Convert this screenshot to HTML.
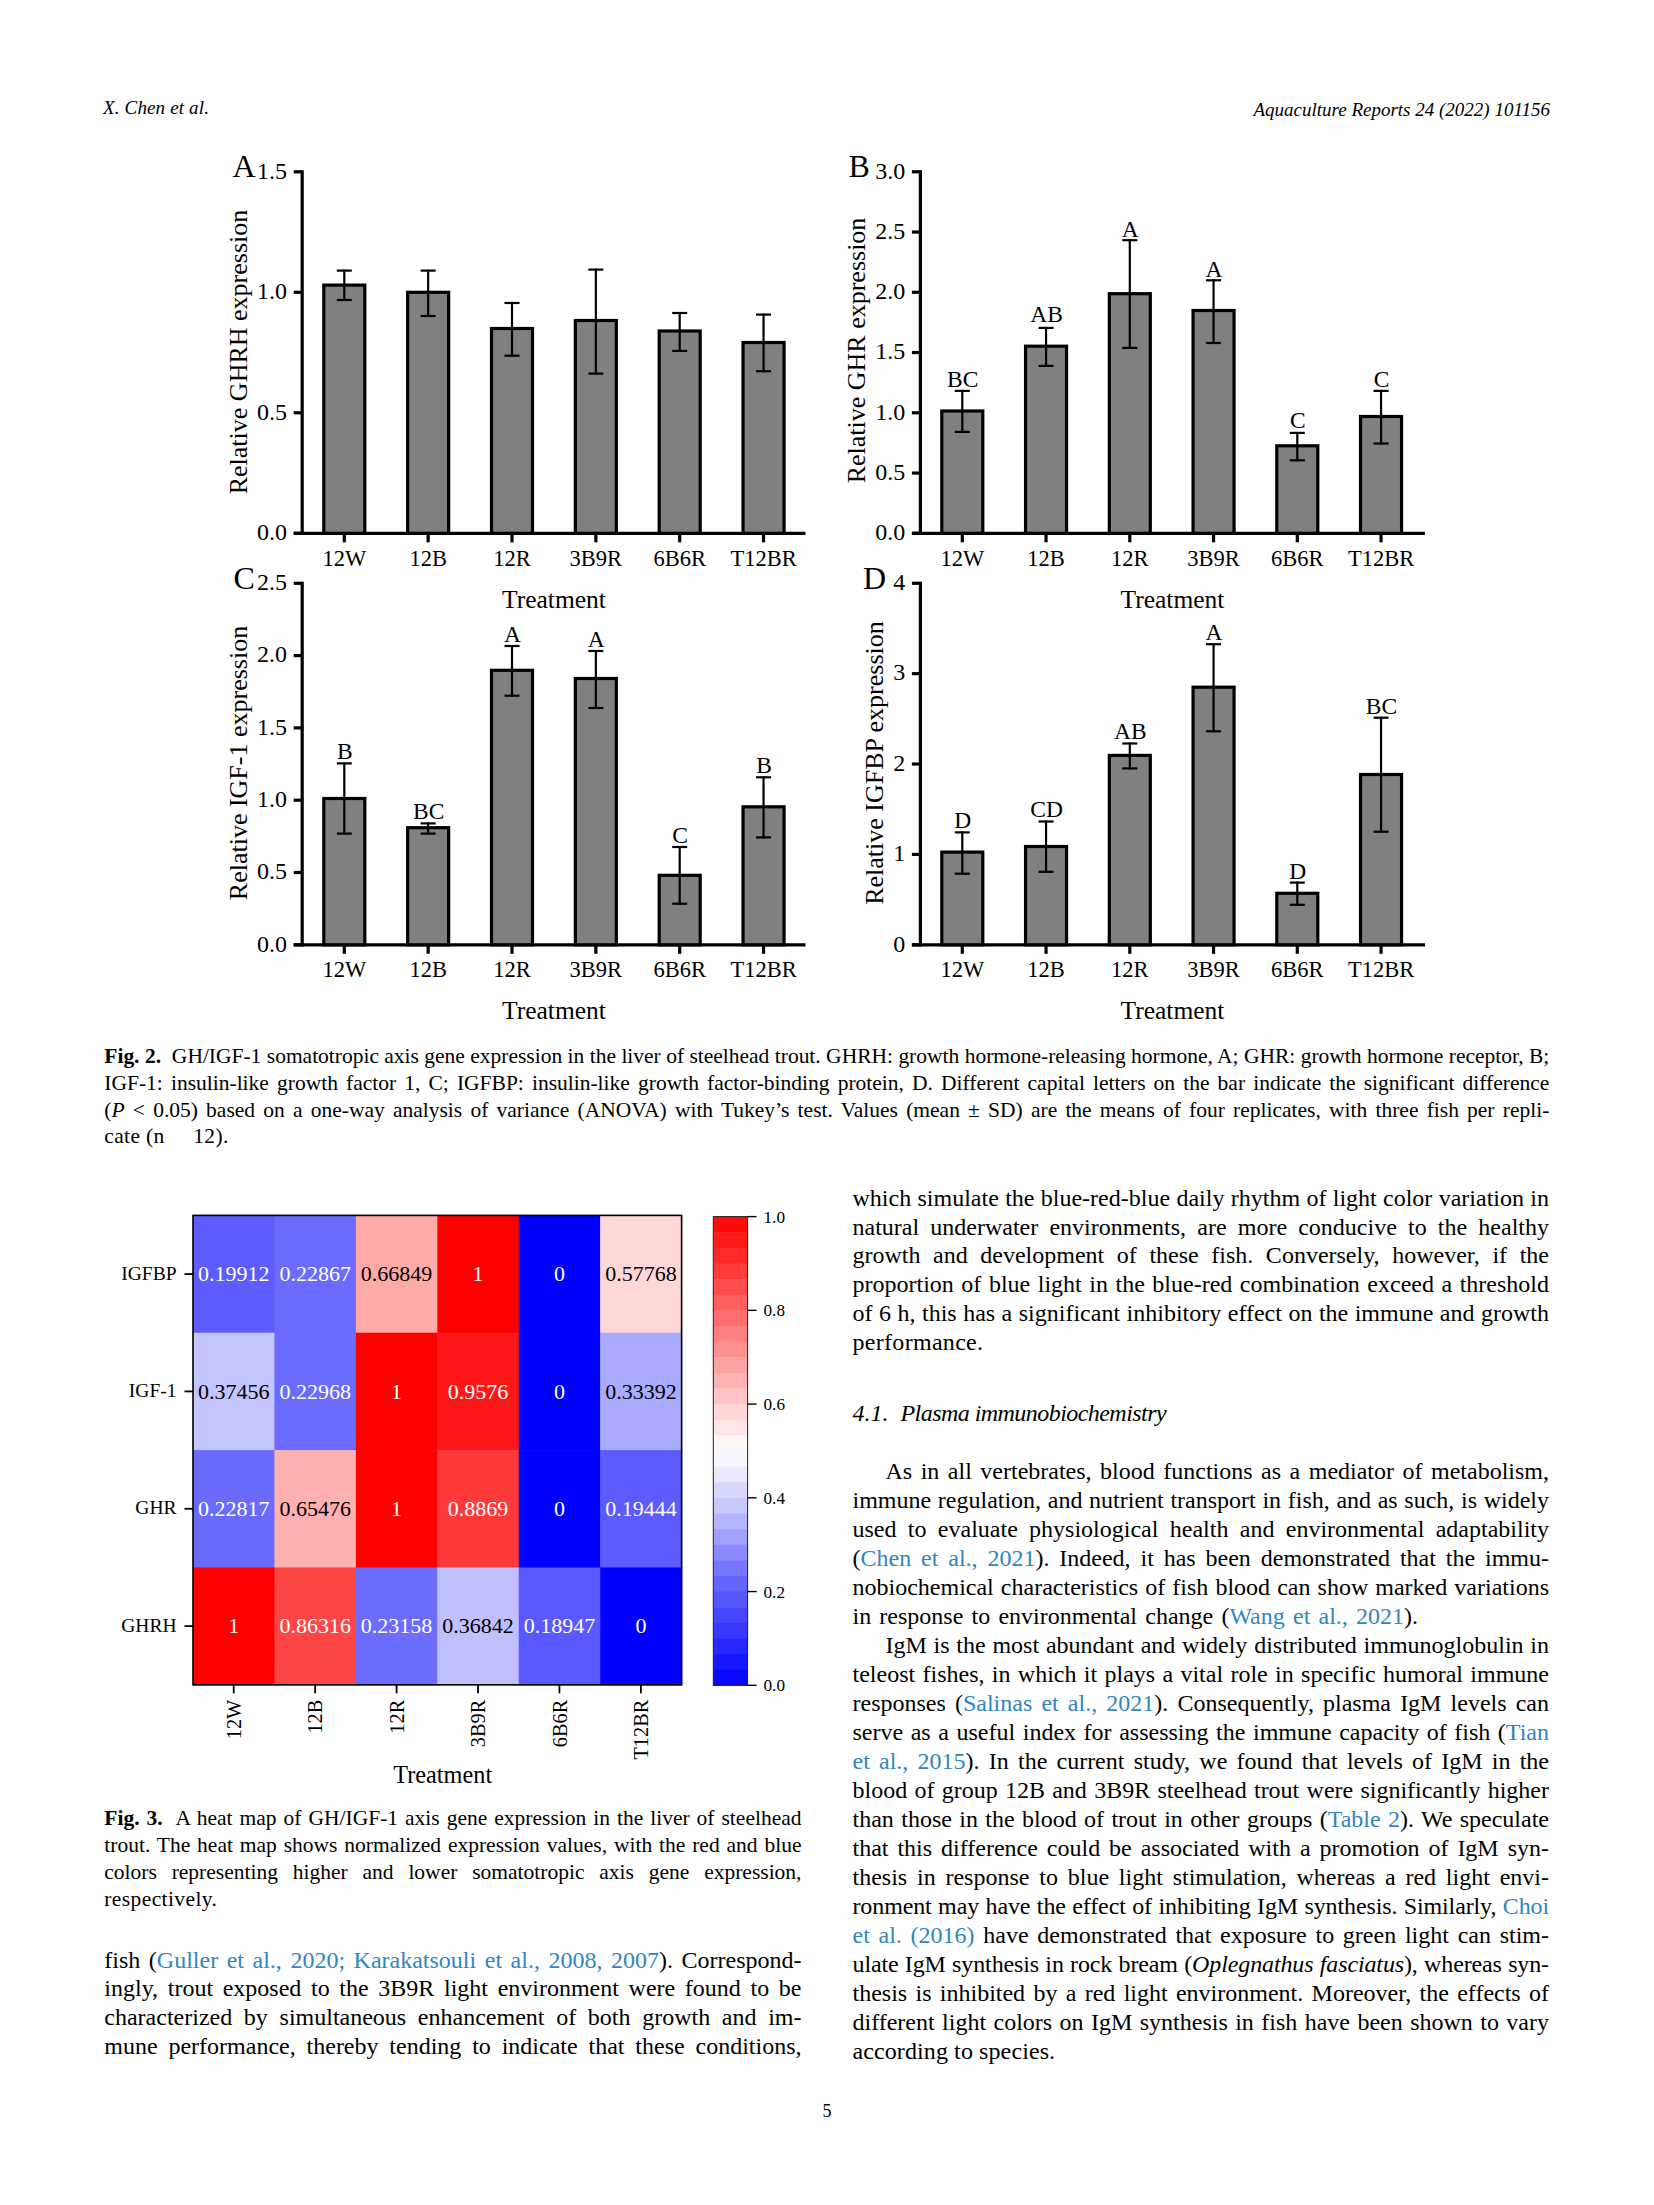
<!DOCTYPE html>
<html><head><meta charset="utf-8"><title>Aquaculture Reports page 5</title>
<style>
html,body{margin:0;padding:0;background:#fff;}
body{width:1654px;height:2205px;position:relative;overflow:hidden;font-family:'Liberation Serif', serif;color:#000;}
.b,.c,.hd{position:absolute;white-space:normal;}
.b{font-size:24px;line-height:29px;}
.c{font-size:21.5px;line-height:26.7px;}
.hd{font-size:19px;line-height:20px;font-style:italic;white-space:nowrap;}
.j{text-align:justify;text-align-last:justify;}
.lk{color:#3186bd;}
svg{position:absolute;left:0;top:0;}
svg text{font-family:'Liberation Serif', serif;}
</style></head><body>
<svg width="1654" height="2205" viewBox="0 0 1654 2205">
<line x1="302.20" y1="170.20" x2="302.20" y2="534.90" stroke="#000" stroke-width="3.2"/>
<line x1="293.70" y1="533.30" x2="805.50" y2="533.30" stroke="#000" stroke-width="3.2"/>
<line x1="293.70" y1="533.30" x2="302.20" y2="533.30" stroke="#000" stroke-width="3.2"/>
<text x="287.00" y="540.10" font-size="24" text-anchor="end" fill="#000">0.0</text>
<line x1="293.70" y1="412.80" x2="302.20" y2="412.80" stroke="#000" stroke-width="3.2"/>
<text x="287.00" y="419.60" font-size="24" text-anchor="end" fill="#000">0.5</text>
<line x1="293.70" y1="292.30" x2="302.20" y2="292.30" stroke="#000" stroke-width="3.2"/>
<text x="287.00" y="299.10" font-size="24" text-anchor="end" fill="#000">1.0</text>
<line x1="293.70" y1="171.80" x2="302.20" y2="171.80" stroke="#000" stroke-width="3.2"/>
<text x="287.00" y="178.60" font-size="24" text-anchor="end" fill="#000">1.5</text>
<rect x="323.80" y="285.10" width="41.00" height="248.20" fill="#808080" stroke="#000" stroke-width="3.2"/>
<line x1="344.30" y1="269.60" x2="344.30" y2="301.00" stroke="#000" stroke-width="2.2"/>
<line x1="336.80" y1="270.60" x2="351.80" y2="270.60" stroke="#000" stroke-width="2.2"/>
<line x1="336.80" y1="300.00" x2="351.80" y2="300.00" stroke="#000" stroke-width="2.2"/>
<line x1="344.30" y1="533.30" x2="344.30" y2="542.30" stroke="#000" stroke-width="3.2"/>
<text x="344.30" y="566.30" font-size="22.5" text-anchor="middle" fill="#000">12W</text>
<rect x="407.65" y="292.30" width="41.00" height="241.00" fill="#808080" stroke="#000" stroke-width="3.2"/>
<line x1="428.15" y1="269.60" x2="428.15" y2="317.00" stroke="#000" stroke-width="2.2"/>
<line x1="420.65" y1="270.60" x2="435.65" y2="270.60" stroke="#000" stroke-width="2.2"/>
<line x1="420.65" y1="316.00" x2="435.65" y2="316.00" stroke="#000" stroke-width="2.2"/>
<line x1="428.15" y1="533.30" x2="428.15" y2="542.30" stroke="#000" stroke-width="3.2"/>
<text x="428.15" y="566.30" font-size="22.5" text-anchor="middle" fill="#000">12B</text>
<rect x="491.50" y="328.50" width="41.00" height="204.80" fill="#808080" stroke="#000" stroke-width="3.2"/>
<line x1="512.00" y1="302.00" x2="512.00" y2="356.70" stroke="#000" stroke-width="2.2"/>
<line x1="504.50" y1="303.00" x2="519.50" y2="303.00" stroke="#000" stroke-width="2.2"/>
<line x1="504.50" y1="355.70" x2="519.50" y2="355.70" stroke="#000" stroke-width="2.2"/>
<line x1="512.00" y1="533.30" x2="512.00" y2="542.30" stroke="#000" stroke-width="3.2"/>
<text x="512.00" y="566.30" font-size="22.5" text-anchor="middle" fill="#000">12R</text>
<rect x="575.35" y="320.50" width="41.00" height="212.80" fill="#808080" stroke="#000" stroke-width="3.2"/>
<line x1="595.85" y1="268.60" x2="595.85" y2="374.60" stroke="#000" stroke-width="2.2"/>
<line x1="588.35" y1="269.60" x2="603.35" y2="269.60" stroke="#000" stroke-width="2.2"/>
<line x1="588.35" y1="373.60" x2="603.35" y2="373.60" stroke="#000" stroke-width="2.2"/>
<line x1="595.85" y1="533.30" x2="595.85" y2="542.30" stroke="#000" stroke-width="3.2"/>
<text x="595.85" y="566.30" font-size="22.5" text-anchor="middle" fill="#000">3B9R</text>
<rect x="659.20" y="331.00" width="41.00" height="202.30" fill="#808080" stroke="#000" stroke-width="3.2"/>
<line x1="679.70" y1="312.00" x2="679.70" y2="351.90" stroke="#000" stroke-width="2.2"/>
<line x1="672.20" y1="313.00" x2="687.20" y2="313.00" stroke="#000" stroke-width="2.2"/>
<line x1="672.20" y1="350.90" x2="687.20" y2="350.90" stroke="#000" stroke-width="2.2"/>
<line x1="679.70" y1="533.30" x2="679.70" y2="542.30" stroke="#000" stroke-width="3.2"/>
<text x="679.70" y="566.30" font-size="22.5" text-anchor="middle" fill="#000">6B6R</text>
<rect x="743.05" y="342.50" width="41.00" height="190.80" fill="#808080" stroke="#000" stroke-width="3.2"/>
<line x1="763.55" y1="313.60" x2="763.55" y2="372.20" stroke="#000" stroke-width="2.2"/>
<line x1="756.05" y1="314.60" x2="771.05" y2="314.60" stroke="#000" stroke-width="2.2"/>
<line x1="756.05" y1="371.20" x2="771.05" y2="371.20" stroke="#000" stroke-width="2.2"/>
<line x1="763.55" y1="533.30" x2="763.55" y2="542.30" stroke="#000" stroke-width="3.2"/>
<text x="763.55" y="566.30" font-size="22.5" text-anchor="middle" fill="#000">T12BR</text>
<text x="554.00" y="607.70" font-size="25.5" text-anchor="middle" fill="#000">Treatment</text>
<text x="247.10" y="352.00" font-size="26" text-anchor="middle" fill="#000" transform="rotate(-90 247.10 352.00)">Relative GHRH expression</text>
<text x="232.50" y="177.30" font-size="32" text-anchor="start" fill="#000">A</text>
<line x1="920.40" y1="170.20" x2="920.40" y2="534.90" stroke="#000" stroke-width="3.2"/>
<line x1="911.90" y1="533.30" x2="1425.00" y2="533.30" stroke="#000" stroke-width="3.2"/>
<line x1="911.90" y1="533.30" x2="920.40" y2="533.30" stroke="#000" stroke-width="3.2"/>
<text x="905.20" y="540.10" font-size="24" text-anchor="end" fill="#000">0.0</text>
<line x1="911.90" y1="473.05" x2="920.40" y2="473.05" stroke="#000" stroke-width="3.2"/>
<text x="905.20" y="479.85" font-size="24" text-anchor="end" fill="#000">0.5</text>
<line x1="911.90" y1="412.80" x2="920.40" y2="412.80" stroke="#000" stroke-width="3.2"/>
<text x="905.20" y="419.60" font-size="24" text-anchor="end" fill="#000">1.0</text>
<line x1="911.90" y1="352.55" x2="920.40" y2="352.55" stroke="#000" stroke-width="3.2"/>
<text x="905.20" y="359.35" font-size="24" text-anchor="end" fill="#000">1.5</text>
<line x1="911.90" y1="292.30" x2="920.40" y2="292.30" stroke="#000" stroke-width="3.2"/>
<text x="905.20" y="299.10" font-size="24" text-anchor="end" fill="#000">2.0</text>
<line x1="911.90" y1="232.05" x2="920.40" y2="232.05" stroke="#000" stroke-width="3.2"/>
<text x="905.20" y="238.85" font-size="24" text-anchor="end" fill="#000">2.5</text>
<line x1="911.90" y1="171.80" x2="920.40" y2="171.80" stroke="#000" stroke-width="3.2"/>
<text x="905.20" y="178.60" font-size="24" text-anchor="end" fill="#000">3.0</text>
<rect x="941.80" y="411.00" width="41.00" height="122.30" fill="#808080" stroke="#000" stroke-width="3.2"/>
<line x1="962.30" y1="389.90" x2="962.30" y2="432.90" stroke="#000" stroke-width="2.2"/>
<line x1="954.80" y1="390.90" x2="969.80" y2="390.90" stroke="#000" stroke-width="2.2"/>
<line x1="954.80" y1="431.90" x2="969.80" y2="431.90" stroke="#000" stroke-width="2.2"/>
<line x1="962.30" y1="533.30" x2="962.30" y2="542.30" stroke="#000" stroke-width="3.2"/>
<text x="962.30" y="566.30" font-size="22.5" text-anchor="middle" fill="#000">12W</text>
<text x="962.80" y="386.90" font-size="23.5" text-anchor="middle" fill="#000">BC</text>
<rect x="1025.55" y="346.20" width="41.00" height="187.10" fill="#808080" stroke="#000" stroke-width="3.2"/>
<line x1="1046.05" y1="326.90" x2="1046.05" y2="366.90" stroke="#000" stroke-width="2.2"/>
<line x1="1038.55" y1="327.90" x2="1053.55" y2="327.90" stroke="#000" stroke-width="2.2"/>
<line x1="1038.55" y1="365.90" x2="1053.55" y2="365.90" stroke="#000" stroke-width="2.2"/>
<line x1="1046.05" y1="533.30" x2="1046.05" y2="542.30" stroke="#000" stroke-width="3.2"/>
<text x="1046.05" y="566.30" font-size="22.5" text-anchor="middle" fill="#000">12B</text>
<text x="1046.55" y="322.30" font-size="23.5" text-anchor="middle" fill="#000">AB</text>
<rect x="1109.30" y="293.70" width="41.00" height="239.60" fill="#808080" stroke="#000" stroke-width="3.2"/>
<line x1="1129.80" y1="239.20" x2="1129.80" y2="348.90" stroke="#000" stroke-width="2.2"/>
<line x1="1122.30" y1="240.20" x2="1137.30" y2="240.20" stroke="#000" stroke-width="2.2"/>
<line x1="1122.30" y1="347.90" x2="1137.30" y2="347.90" stroke="#000" stroke-width="2.2"/>
<line x1="1129.80" y1="533.30" x2="1129.80" y2="542.30" stroke="#000" stroke-width="3.2"/>
<text x="1129.80" y="566.30" font-size="22.5" text-anchor="middle" fill="#000">12R</text>
<text x="1130.30" y="236.90" font-size="23.5" text-anchor="middle" fill="#000">A</text>
<rect x="1193.05" y="310.50" width="41.00" height="222.80" fill="#808080" stroke="#000" stroke-width="3.2"/>
<line x1="1213.55" y1="279.30" x2="1213.55" y2="344.00" stroke="#000" stroke-width="2.2"/>
<line x1="1206.05" y1="280.30" x2="1221.05" y2="280.30" stroke="#000" stroke-width="2.2"/>
<line x1="1206.05" y1="343.00" x2="1221.05" y2="343.00" stroke="#000" stroke-width="2.2"/>
<line x1="1213.55" y1="533.30" x2="1213.55" y2="542.30" stroke="#000" stroke-width="3.2"/>
<text x="1213.55" y="566.30" font-size="22.5" text-anchor="middle" fill="#000">3B9R</text>
<text x="1214.05" y="276.90" font-size="23.5" text-anchor="middle" fill="#000">A</text>
<rect x="1276.80" y="445.80" width="41.00" height="87.50" fill="#808080" stroke="#000" stroke-width="3.2"/>
<line x1="1297.30" y1="431.90" x2="1297.30" y2="461.30" stroke="#000" stroke-width="2.2"/>
<line x1="1289.80" y1="432.90" x2="1304.80" y2="432.90" stroke="#000" stroke-width="2.2"/>
<line x1="1289.80" y1="460.30" x2="1304.80" y2="460.30" stroke="#000" stroke-width="2.2"/>
<line x1="1297.30" y1="533.30" x2="1297.30" y2="542.30" stroke="#000" stroke-width="3.2"/>
<text x="1297.30" y="566.30" font-size="22.5" text-anchor="middle" fill="#000">6B6R</text>
<text x="1297.80" y="428.00" font-size="23.5" text-anchor="middle" fill="#000">C</text>
<rect x="1360.55" y="416.50" width="41.00" height="116.80" fill="#808080" stroke="#000" stroke-width="3.2"/>
<line x1="1381.05" y1="389.90" x2="1381.05" y2="444.50" stroke="#000" stroke-width="2.2"/>
<line x1="1373.55" y1="390.90" x2="1388.55" y2="390.90" stroke="#000" stroke-width="2.2"/>
<line x1="1373.55" y1="443.50" x2="1388.55" y2="443.50" stroke="#000" stroke-width="2.2"/>
<line x1="1381.05" y1="533.30" x2="1381.05" y2="542.30" stroke="#000" stroke-width="3.2"/>
<text x="1381.05" y="566.30" font-size="22.5" text-anchor="middle" fill="#000">T12BR</text>
<text x="1381.55" y="386.50" font-size="23.5" text-anchor="middle" fill="#000">C</text>
<text x="1172.50" y="607.70" font-size="25.5" text-anchor="middle" fill="#000">Treatment</text>
<text x="865.20" y="350.50" font-size="26" text-anchor="middle" fill="#000" transform="rotate(-90 865.20 350.50)">Relative GHR expression</text>
<text x="848.50" y="177.30" font-size="32" text-anchor="start" fill="#000">B</text>
<line x1="302.20" y1="581.70" x2="302.20" y2="946.40" stroke="#000" stroke-width="3.2"/>
<line x1="293.70" y1="944.80" x2="805.50" y2="944.80" stroke="#000" stroke-width="3.2"/>
<line x1="293.70" y1="944.80" x2="302.20" y2="944.80" stroke="#000" stroke-width="3.2"/>
<text x="287.00" y="951.60" font-size="24" text-anchor="end" fill="#000">0.0</text>
<line x1="293.70" y1="872.50" x2="302.20" y2="872.50" stroke="#000" stroke-width="3.2"/>
<text x="287.00" y="879.30" font-size="24" text-anchor="end" fill="#000">0.5</text>
<line x1="293.70" y1="800.20" x2="302.20" y2="800.20" stroke="#000" stroke-width="3.2"/>
<text x="287.00" y="807.00" font-size="24" text-anchor="end" fill="#000">1.0</text>
<line x1="293.70" y1="727.90" x2="302.20" y2="727.90" stroke="#000" stroke-width="3.2"/>
<text x="287.00" y="734.70" font-size="24" text-anchor="end" fill="#000">1.5</text>
<line x1="293.70" y1="655.60" x2="302.20" y2="655.60" stroke="#000" stroke-width="3.2"/>
<text x="287.00" y="662.40" font-size="24" text-anchor="end" fill="#000">2.0</text>
<line x1="293.70" y1="583.30" x2="302.20" y2="583.30" stroke="#000" stroke-width="3.2"/>
<text x="287.00" y="590.10" font-size="24" text-anchor="end" fill="#000">2.5</text>
<rect x="323.80" y="798.50" width="41.00" height="146.30" fill="#808080" stroke="#000" stroke-width="3.2"/>
<line x1="344.30" y1="762.40" x2="344.30" y2="834.60" stroke="#000" stroke-width="2.2"/>
<line x1="336.80" y1="763.40" x2="351.80" y2="763.40" stroke="#000" stroke-width="2.2"/>
<line x1="336.80" y1="833.60" x2="351.80" y2="833.60" stroke="#000" stroke-width="2.2"/>
<line x1="344.30" y1="944.80" x2="344.30" y2="953.80" stroke="#000" stroke-width="3.2"/>
<text x="344.30" y="977.40" font-size="22.5" text-anchor="middle" fill="#000">12W</text>
<text x="344.80" y="759.30" font-size="23.5" text-anchor="middle" fill="#000">B</text>
<rect x="407.65" y="827.70" width="41.00" height="117.10" fill="#808080" stroke="#000" stroke-width="3.2"/>
<line x1="428.15" y1="822.40" x2="428.15" y2="834.60" stroke="#000" stroke-width="2.2"/>
<line x1="420.65" y1="823.40" x2="435.65" y2="823.40" stroke="#000" stroke-width="2.2"/>
<line x1="420.65" y1="833.60" x2="435.65" y2="833.60" stroke="#000" stroke-width="2.2"/>
<line x1="428.15" y1="944.80" x2="428.15" y2="953.80" stroke="#000" stroke-width="3.2"/>
<text x="428.15" y="977.40" font-size="22.5" text-anchor="middle" fill="#000">12B</text>
<text x="428.65" y="819.30" font-size="23.5" text-anchor="middle" fill="#000">BC</text>
<rect x="491.50" y="670.30" width="41.00" height="274.50" fill="#808080" stroke="#000" stroke-width="3.2"/>
<line x1="512.00" y1="645.00" x2="512.00" y2="696.70" stroke="#000" stroke-width="2.2"/>
<line x1="504.50" y1="646.00" x2="519.50" y2="646.00" stroke="#000" stroke-width="2.2"/>
<line x1="504.50" y1="695.70" x2="519.50" y2="695.70" stroke="#000" stroke-width="2.2"/>
<line x1="512.00" y1="944.80" x2="512.00" y2="953.80" stroke="#000" stroke-width="3.2"/>
<text x="512.00" y="977.40" font-size="22.5" text-anchor="middle" fill="#000">12R</text>
<text x="512.50" y="641.90" font-size="23.5" text-anchor="middle" fill="#000">A</text>
<rect x="575.35" y="678.50" width="41.00" height="266.30" fill="#808080" stroke="#000" stroke-width="3.2"/>
<line x1="595.85" y1="650.00" x2="595.85" y2="709.00" stroke="#000" stroke-width="2.2"/>
<line x1="588.35" y1="651.00" x2="603.35" y2="651.00" stroke="#000" stroke-width="2.2"/>
<line x1="588.35" y1="708.00" x2="603.35" y2="708.00" stroke="#000" stroke-width="2.2"/>
<line x1="595.85" y1="944.80" x2="595.85" y2="953.80" stroke="#000" stroke-width="3.2"/>
<text x="595.85" y="977.40" font-size="22.5" text-anchor="middle" fill="#000">3B9R</text>
<text x="596.35" y="646.90" font-size="23.5" text-anchor="middle" fill="#000">A</text>
<rect x="659.20" y="875.30" width="41.00" height="69.50" fill="#808080" stroke="#000" stroke-width="3.2"/>
<line x1="679.70" y1="846.00" x2="679.70" y2="904.70" stroke="#000" stroke-width="2.2"/>
<line x1="672.20" y1="847.00" x2="687.20" y2="847.00" stroke="#000" stroke-width="2.2"/>
<line x1="672.20" y1="903.70" x2="687.20" y2="903.70" stroke="#000" stroke-width="2.2"/>
<line x1="679.70" y1="944.80" x2="679.70" y2="953.80" stroke="#000" stroke-width="3.2"/>
<text x="679.70" y="977.40" font-size="22.5" text-anchor="middle" fill="#000">6B6R</text>
<text x="680.20" y="842.90" font-size="23.5" text-anchor="middle" fill="#000">C</text>
<rect x="743.05" y="806.80" width="41.00" height="138.00" fill="#808080" stroke="#000" stroke-width="3.2"/>
<line x1="763.55" y1="776.30" x2="763.55" y2="838.40" stroke="#000" stroke-width="2.2"/>
<line x1="756.05" y1="777.30" x2="771.05" y2="777.30" stroke="#000" stroke-width="2.2"/>
<line x1="756.05" y1="837.40" x2="771.05" y2="837.40" stroke="#000" stroke-width="2.2"/>
<line x1="763.55" y1="944.80" x2="763.55" y2="953.80" stroke="#000" stroke-width="3.2"/>
<text x="763.55" y="977.40" font-size="22.5" text-anchor="middle" fill="#000">T12BR</text>
<text x="764.05" y="773.20" font-size="23.5" text-anchor="middle" fill="#000">B</text>
<text x="554.00" y="1018.70" font-size="25.5" text-anchor="middle" fill="#000">Treatment</text>
<text x="247.10" y="763.00" font-size="26" text-anchor="middle" fill="#000" transform="rotate(-90 247.10 763.00)">Relative IGF-1 expression</text>
<text x="233.50" y="588.80" font-size="32" text-anchor="start" fill="#000">C</text>
<line x1="920.40" y1="581.70" x2="920.40" y2="946.40" stroke="#000" stroke-width="3.2"/>
<line x1="911.90" y1="944.80" x2="1425.00" y2="944.80" stroke="#000" stroke-width="3.2"/>
<line x1="911.90" y1="944.80" x2="920.40" y2="944.80" stroke="#000" stroke-width="3.2"/>
<text x="905.20" y="951.60" font-size="24" text-anchor="end" fill="#000">0</text>
<line x1="911.90" y1="854.42" x2="920.40" y2="854.42" stroke="#000" stroke-width="3.2"/>
<text x="905.20" y="861.22" font-size="24" text-anchor="end" fill="#000">1</text>
<line x1="911.90" y1="764.05" x2="920.40" y2="764.05" stroke="#000" stroke-width="3.2"/>
<text x="905.20" y="770.85" font-size="24" text-anchor="end" fill="#000">2</text>
<line x1="911.90" y1="673.67" x2="920.40" y2="673.67" stroke="#000" stroke-width="3.2"/>
<text x="905.20" y="680.47" font-size="24" text-anchor="end" fill="#000">3</text>
<line x1="911.90" y1="583.30" x2="920.40" y2="583.30" stroke="#000" stroke-width="3.2"/>
<text x="905.20" y="590.10" font-size="24" text-anchor="end" fill="#000">4</text>
<rect x="941.80" y="852.10" width="41.00" height="92.70" fill="#808080" stroke="#000" stroke-width="3.2"/>
<line x1="962.30" y1="831.40" x2="962.30" y2="874.70" stroke="#000" stroke-width="2.2"/>
<line x1="954.80" y1="832.40" x2="969.80" y2="832.40" stroke="#000" stroke-width="2.2"/>
<line x1="954.80" y1="873.70" x2="969.80" y2="873.70" stroke="#000" stroke-width="2.2"/>
<line x1="962.30" y1="944.80" x2="962.30" y2="953.80" stroke="#000" stroke-width="3.2"/>
<text x="962.30" y="977.40" font-size="22.5" text-anchor="middle" fill="#000">12W</text>
<text x="962.80" y="828.30" font-size="23.5" text-anchor="middle" fill="#000">D</text>
<rect x="1025.55" y="846.50" width="41.00" height="98.30" fill="#808080" stroke="#000" stroke-width="3.2"/>
<line x1="1046.05" y1="820.50" x2="1046.05" y2="872.80" stroke="#000" stroke-width="2.2"/>
<line x1="1038.55" y1="821.50" x2="1053.55" y2="821.50" stroke="#000" stroke-width="2.2"/>
<line x1="1038.55" y1="871.80" x2="1053.55" y2="871.80" stroke="#000" stroke-width="2.2"/>
<line x1="1046.05" y1="944.80" x2="1046.05" y2="953.80" stroke="#000" stroke-width="3.2"/>
<text x="1046.05" y="977.40" font-size="22.5" text-anchor="middle" fill="#000">12B</text>
<text x="1046.55" y="817.40" font-size="23.5" text-anchor="middle" fill="#000">CD</text>
<rect x="1109.30" y="755.40" width="41.00" height="189.40" fill="#808080" stroke="#000" stroke-width="3.2"/>
<line x1="1129.80" y1="742.50" x2="1129.80" y2="769.40" stroke="#000" stroke-width="2.2"/>
<line x1="1122.30" y1="743.50" x2="1137.30" y2="743.50" stroke="#000" stroke-width="2.2"/>
<line x1="1122.30" y1="768.40" x2="1137.30" y2="768.40" stroke="#000" stroke-width="2.2"/>
<line x1="1129.80" y1="944.80" x2="1129.80" y2="953.80" stroke="#000" stroke-width="3.2"/>
<text x="1129.80" y="977.40" font-size="22.5" text-anchor="middle" fill="#000">12R</text>
<text x="1130.30" y="739.40" font-size="23.5" text-anchor="middle" fill="#000">AB</text>
<rect x="1193.05" y="687.20" width="41.00" height="257.60" fill="#808080" stroke="#000" stroke-width="3.2"/>
<line x1="1213.55" y1="643.20" x2="1213.55" y2="732.30" stroke="#000" stroke-width="2.2"/>
<line x1="1206.05" y1="644.20" x2="1221.05" y2="644.20" stroke="#000" stroke-width="2.2"/>
<line x1="1206.05" y1="731.30" x2="1221.05" y2="731.30" stroke="#000" stroke-width="2.2"/>
<line x1="1213.55" y1="944.80" x2="1213.55" y2="953.80" stroke="#000" stroke-width="3.2"/>
<text x="1213.55" y="977.40" font-size="22.5" text-anchor="middle" fill="#000">3B9R</text>
<text x="1214.05" y="640.10" font-size="23.5" text-anchor="middle" fill="#000">A</text>
<rect x="1276.80" y="893.30" width="41.00" height="51.50" fill="#808080" stroke="#000" stroke-width="3.2"/>
<line x1="1297.30" y1="881.60" x2="1297.30" y2="905.80" stroke="#000" stroke-width="2.2"/>
<line x1="1289.80" y1="882.60" x2="1304.80" y2="882.60" stroke="#000" stroke-width="2.2"/>
<line x1="1289.80" y1="904.80" x2="1304.80" y2="904.80" stroke="#000" stroke-width="2.2"/>
<line x1="1297.30" y1="944.80" x2="1297.30" y2="953.80" stroke="#000" stroke-width="3.2"/>
<text x="1297.30" y="977.40" font-size="22.5" text-anchor="middle" fill="#000">6B6R</text>
<text x="1297.80" y="878.50" font-size="23.5" text-anchor="middle" fill="#000">D</text>
<rect x="1360.55" y="774.50" width="41.00" height="170.30" fill="#808080" stroke="#000" stroke-width="3.2"/>
<line x1="1381.05" y1="716.70" x2="1381.05" y2="832.70" stroke="#000" stroke-width="2.2"/>
<line x1="1373.55" y1="717.70" x2="1388.55" y2="717.70" stroke="#000" stroke-width="2.2"/>
<line x1="1373.55" y1="831.70" x2="1388.55" y2="831.70" stroke="#000" stroke-width="2.2"/>
<line x1="1381.05" y1="944.80" x2="1381.05" y2="953.80" stroke="#000" stroke-width="3.2"/>
<text x="1381.05" y="977.40" font-size="22.5" text-anchor="middle" fill="#000">T12BR</text>
<text x="1381.55" y="713.60" font-size="23.5" text-anchor="middle" fill="#000">BC</text>
<text x="1172.50" y="1018.70" font-size="25.5" text-anchor="middle" fill="#000">Treatment</text>
<text x="883.00" y="763.00" font-size="26" text-anchor="middle" fill="#000" transform="rotate(-90 883.00 763.00)">Relative IGFBP expression</text>
<text x="863.00" y="588.80" font-size="32" text-anchor="start" fill="#000">D</text>
<rect x="193.00" y="1215.40" width="82.03" height="117.95" fill="rgb(93, 93, 255)"/>
<rect x="274.43" y="1215.40" width="82.03" height="117.95" fill="rgb(107, 107, 255)"/>
<rect x="355.87" y="1215.40" width="82.03" height="117.95" fill="rgb(255, 169, 169)"/>
<rect x="437.30" y="1215.40" width="82.03" height="117.95" fill="rgb(255, 0, 0)"/>
<rect x="518.73" y="1215.40" width="82.03" height="117.95" fill="rgb(0, 0, 255)"/>
<rect x="600.17" y="1215.40" width="82.03" height="117.95" fill="rgb(255, 215, 215)"/>
<rect x="193.00" y="1332.75" width="82.03" height="117.95" fill="rgb(196, 196, 255)"/>
<rect x="274.43" y="1332.75" width="82.03" height="117.95" fill="rgb(107, 107, 255)"/>
<rect x="355.87" y="1332.75" width="82.03" height="117.95" fill="rgb(255, 0, 0)"/>
<rect x="437.30" y="1332.75" width="82.03" height="117.95" fill="rgb(255, 22, 22)"/>
<rect x="518.73" y="1332.75" width="82.03" height="117.95" fill="rgb(0, 0, 255)"/>
<rect x="600.17" y="1332.75" width="82.03" height="117.95" fill="rgb(170, 170, 255)"/>
<rect x="193.00" y="1450.10" width="82.03" height="117.95" fill="rgb(106, 106, 255)"/>
<rect x="274.43" y="1450.10" width="82.03" height="117.95" fill="rgb(255, 176, 176)"/>
<rect x="355.87" y="1450.10" width="82.03" height="117.95" fill="rgb(255, 0, 0)"/>
<rect x="437.30" y="1450.10" width="82.03" height="117.95" fill="rgb(255, 58, 58)"/>
<rect x="518.73" y="1450.10" width="82.03" height="117.95" fill="rgb(0, 0, 255)"/>
<rect x="600.17" y="1450.10" width="82.03" height="117.95" fill="rgb(91, 91, 255)"/>
<rect x="193.00" y="1567.45" width="82.03" height="117.95" fill="rgb(255, 0, 0)"/>
<rect x="274.43" y="1567.45" width="82.03" height="117.95" fill="rgb(255, 70, 70)"/>
<rect x="355.87" y="1567.45" width="82.03" height="117.95" fill="rgb(108, 108, 255)"/>
<rect x="437.30" y="1567.45" width="82.03" height="117.95" fill="rgb(192, 192, 255)"/>
<rect x="518.73" y="1567.45" width="82.03" height="117.95" fill="rgb(89, 89, 255)"/>
<rect x="600.17" y="1567.45" width="82.03" height="117.95" fill="rgb(0, 0, 255)"/>
<text x="233.72" y="1281.38" font-size="22" text-anchor="middle" fill="#fff">0.19912</text>
<text x="315.15" y="1281.38" font-size="22" text-anchor="middle" fill="#fff">0.22867</text>
<text x="396.58" y="1281.38" font-size="22" text-anchor="middle" fill="#000">0.66849</text>
<text x="478.02" y="1281.38" font-size="22" text-anchor="middle" fill="#fff">1</text>
<text x="559.45" y="1281.38" font-size="22" text-anchor="middle" fill="#fff">0</text>
<text x="640.88" y="1281.38" font-size="22" text-anchor="middle" fill="#000">0.57768</text>
<text x="233.72" y="1398.72" font-size="22" text-anchor="middle" fill="#000">0.37456</text>
<text x="315.15" y="1398.72" font-size="22" text-anchor="middle" fill="#fff">0.22968</text>
<text x="396.58" y="1398.72" font-size="22" text-anchor="middle" fill="#fff">1</text>
<text x="478.02" y="1398.72" font-size="22" text-anchor="middle" fill="#fff">0.9576</text>
<text x="559.45" y="1398.72" font-size="22" text-anchor="middle" fill="#fff">0</text>
<text x="640.88" y="1398.72" font-size="22" text-anchor="middle" fill="#000">0.33392</text>
<text x="233.72" y="1516.08" font-size="22" text-anchor="middle" fill="#fff">0.22817</text>
<text x="315.15" y="1516.08" font-size="22" text-anchor="middle" fill="#000">0.65476</text>
<text x="396.58" y="1516.08" font-size="22" text-anchor="middle" fill="#fff">1</text>
<text x="478.02" y="1516.08" font-size="22" text-anchor="middle" fill="#fff">0.8869</text>
<text x="559.45" y="1516.08" font-size="22" text-anchor="middle" fill="#fff">0</text>
<text x="640.88" y="1516.08" font-size="22" text-anchor="middle" fill="#fff">0.19444</text>
<text x="233.72" y="1633.42" font-size="22" text-anchor="middle" fill="#fff">1</text>
<text x="315.15" y="1633.42" font-size="22" text-anchor="middle" fill="#fff">0.86316</text>
<text x="396.58" y="1633.42" font-size="22" text-anchor="middle" fill="#fff">0.23158</text>
<text x="478.02" y="1633.42" font-size="22" text-anchor="middle" fill="#000">0.36842</text>
<text x="559.45" y="1633.42" font-size="22" text-anchor="middle" fill="#fff">0.18947</text>
<text x="640.88" y="1633.42" font-size="22" text-anchor="middle" fill="#fff">0</text>
<rect x="193.00" y="1215.40" width="488.60" height="469.40" fill="none" stroke="#000" stroke-width="1.6"/>
<line x1="184.50" y1="1274.08" x2="193.00" y2="1274.08" stroke="#000" stroke-width="1.8"/>
<text x="176.50" y="1279.67" font-size="19.5" text-anchor="end" fill="#000">IGFBP</text>
<line x1="184.50" y1="1391.42" x2="193.00" y2="1391.42" stroke="#000" stroke-width="1.8"/>
<text x="176.50" y="1397.02" font-size="19.5" text-anchor="end" fill="#000">IGF-1</text>
<line x1="184.50" y1="1508.78" x2="193.00" y2="1508.78" stroke="#000" stroke-width="1.8"/>
<text x="176.50" y="1514.38" font-size="19.5" text-anchor="end" fill="#000">GHR</text>
<line x1="184.50" y1="1626.12" x2="193.00" y2="1626.12" stroke="#000" stroke-width="1.8"/>
<text x="176.50" y="1631.72" font-size="19.5" text-anchor="end" fill="#000">GHRH</text>
<line x1="233.72" y1="1684.80" x2="233.72" y2="1693.30" stroke="#000" stroke-width="1.8"/>
<text x="240.92" y="1699.80" font-size="20.3" text-anchor="end" fill="#000" transform="rotate(-90 240.92 1699.80)">12W</text>
<line x1="315.15" y1="1684.80" x2="315.15" y2="1693.30" stroke="#000" stroke-width="1.8"/>
<text x="322.35" y="1699.80" font-size="20.3" text-anchor="end" fill="#000" transform="rotate(-90 322.35 1699.80)">12B</text>
<line x1="396.58" y1="1684.80" x2="396.58" y2="1693.30" stroke="#000" stroke-width="1.8"/>
<text x="403.78" y="1699.80" font-size="20.3" text-anchor="end" fill="#000" transform="rotate(-90 403.78 1699.80)">12R</text>
<line x1="478.02" y1="1684.80" x2="478.02" y2="1693.30" stroke="#000" stroke-width="1.8"/>
<text x="485.22" y="1699.80" font-size="20.3" text-anchor="end" fill="#000" transform="rotate(-90 485.22 1699.80)">3B9R</text>
<line x1="559.45" y1="1684.80" x2="559.45" y2="1693.30" stroke="#000" stroke-width="1.8"/>
<text x="566.65" y="1699.80" font-size="20.3" text-anchor="end" fill="#000" transform="rotate(-90 566.65 1699.80)">6B6R</text>
<line x1="640.88" y1="1684.80" x2="640.88" y2="1693.30" stroke="#000" stroke-width="1.8"/>
<text x="648.08" y="1699.80" font-size="20.3" text-anchor="end" fill="#000" transform="rotate(-90 648.08 1699.80)">T12BR</text>
<text x="442.70" y="1782.50" font-size="24.3" text-anchor="middle" fill="#000">Treatment</text>
<rect x="713.30" y="1216.60" width="34.30" height="16.12" fill="rgb(255, 9, 9)"/>
<rect x="713.30" y="1232.22" width="34.30" height="16.12" fill="rgb(255, 26, 26)"/>
<rect x="713.30" y="1247.85" width="34.30" height="16.12" fill="rgb(255, 43, 43)"/>
<rect x="713.30" y="1263.47" width="34.30" height="16.12" fill="rgb(255, 60, 60)"/>
<rect x="713.30" y="1279.09" width="34.30" height="16.12" fill="rgb(255, 77, 77)"/>
<rect x="713.30" y="1294.72" width="34.30" height="16.12" fill="rgb(255, 94, 94)"/>
<rect x="713.30" y="1310.34" width="34.30" height="16.12" fill="rgb(255, 110, 110)"/>
<rect x="713.30" y="1325.96" width="34.30" height="16.12" fill="rgb(255, 128, 128)"/>
<rect x="713.30" y="1341.59" width="34.30" height="16.12" fill="rgb(255, 144, 144)"/>
<rect x="713.30" y="1357.21" width="34.30" height="16.12" fill="rgb(255, 162, 162)"/>
<rect x="713.30" y="1372.83" width="34.30" height="16.12" fill="rgb(255, 178, 178)"/>
<rect x="713.30" y="1388.46" width="34.30" height="16.12" fill="rgb(255, 195, 195)"/>
<rect x="713.30" y="1404.08" width="34.30" height="16.12" fill="rgb(255, 213, 213)"/>
<rect x="713.30" y="1419.70" width="34.30" height="16.12" fill="rgb(255, 229, 229)"/>
<rect x="713.30" y="1435.33" width="34.30" height="16.12" fill="rgb(255, 247, 247)"/>
<rect x="713.30" y="1450.95" width="34.30" height="16.12" fill="rgb(247, 247, 255)"/>
<rect x="713.30" y="1466.57" width="34.30" height="16.12" fill="rgb(232, 232, 255)"/>
<rect x="713.30" y="1482.20" width="34.30" height="16.12" fill="rgb(216, 216, 255)"/>
<rect x="713.30" y="1497.82" width="34.30" height="16.12" fill="rgb(200, 200, 255)"/>
<rect x="713.30" y="1513.44" width="34.30" height="16.12" fill="rgb(180, 180, 255)"/>
<rect x="713.30" y="1529.07" width="34.30" height="16.12" fill="rgb(160, 160, 255)"/>
<rect x="713.30" y="1544.69" width="34.30" height="16.12" fill="rgb(139, 139, 255)"/>
<rect x="713.30" y="1560.31" width="34.30" height="16.12" fill="rgb(119, 119, 255)"/>
<rect x="713.30" y="1575.94" width="34.30" height="16.12" fill="rgb(101, 101, 255)"/>
<rect x="713.30" y="1591.56" width="34.30" height="16.12" fill="rgb(86, 86, 255)"/>
<rect x="713.30" y="1607.18" width="34.30" height="16.12" fill="rgb(70, 70, 255)"/>
<rect x="713.30" y="1622.81" width="34.30" height="16.12" fill="rgb(55, 55, 255)"/>
<rect x="713.30" y="1638.43" width="34.30" height="16.12" fill="rgb(39, 39, 255)"/>
<rect x="713.30" y="1654.05" width="34.30" height="16.12" fill="rgb(23, 23, 255)"/>
<rect x="713.30" y="1669.68" width="34.30" height="16.12" fill="rgb(8, 8, 255)"/>
<rect x="713.30" y="1216.60" width="34.30" height="468.70" fill="none" stroke="#222" stroke-width="1"/>
<line x1="747.60" y1="1685.30" x2="756.60" y2="1685.30" stroke="#000" stroke-width="1.4"/>
<text x="763.50" y="1691.30" font-size="17.2" text-anchor="start" fill="#000">0.0</text>
<line x1="747.60" y1="1591.56" x2="756.60" y2="1591.56" stroke="#000" stroke-width="1.4"/>
<text x="763.50" y="1597.56" font-size="17.2" text-anchor="start" fill="#000">0.2</text>
<line x1="747.60" y1="1497.82" x2="756.60" y2="1497.82" stroke="#000" stroke-width="1.4"/>
<text x="763.50" y="1503.82" font-size="17.2" text-anchor="start" fill="#000">0.4</text>
<line x1="747.60" y1="1404.08" x2="756.60" y2="1404.08" stroke="#000" stroke-width="1.4"/>
<text x="763.50" y="1410.08" font-size="17.2" text-anchor="start" fill="#000">0.6</text>
<line x1="747.60" y1="1310.34" x2="756.60" y2="1310.34" stroke="#000" stroke-width="1.4"/>
<text x="763.50" y="1316.34" font-size="17.2" text-anchor="start" fill="#000">0.8</text>
<line x1="747.60" y1="1216.60" x2="756.60" y2="1216.60" stroke="#000" stroke-width="1.4"/>
<text x="763.50" y="1222.60" font-size="17.2" text-anchor="start" fill="#000">1.0</text>
</svg>

<div class="hd" style="left:103px;top:98.3px;letter-spacing:0.15px">X. Chen et al.</div>
<div class="hd" style="right:104.0px;top:99.7px">Aquaculture Reports 24 (2022) 101156</div>
<div class="b" style="left:817px;top:2097.0px;width:20px;text-align:center;font-size:18px">5</div>

<div class="c j" style="left:104.3px;top:1043.0px;width:1445.0px;letter-spacing:-0.011px"><b>Fig. 2.</b>&nbsp; GH/IGF-1 somatotropic axis gene expression in the liver of steelhead trout. GHRH: growth hormone-releasing hormone, A; GHR: growth hormone receptor, B;</div>
<div class="c j" style="left:104.3px;top:1069.9px;width:1445.0px">IGF-1: insulin-like growth factor 1, C; IGFBP: insulin-like growth factor-binding protein, D. Different capital letters on the bar indicate the significant difference</div>
<div class="c j" style="left:104.3px;top:1096.6px;width:1445.0px">(<i>P</i> &lt; 0.05) based on a one-way analysis of variance (ANOVA) with Tukey’s test. Values (mean ± SD) are the means of four replicates, with three fish per repli-</div>
<div class="c" style="left:104.3px;top:1123.0px;width:400.0px;letter-spacing:0.35px">cate (n &nbsp;&nbsp;&nbsp; 12).</div>
<div class="c j" style="left:104.3px;top:1805.4px;width:697.2px"><b>Fig. 3.</b>&nbsp; A heat map of GH/IGF-1 axis gene expression in the liver of steelhead</div>
<div class="c j" style="left:104.3px;top:1832.2px;width:697.2px">trout. The heat map shows normalized expression values, with the red and blue</div>
<div class="c j" style="left:104.3px;top:1858.9px;width:697.2px">colors representing higher and lower somatotropic axis gene expression,</div>
<div class="c" style="left:104.3px;top:1885.5px;width:697.2px;letter-spacing:0.4px">respectively.</div>
<div class="b j" style="left:104.3px;top:1945.6px;width:697.2px">fish (<span class="lk">Guller et al., 2020; Karakatsouli et al., 2008, 2007</span>). Correspond-</div>
<div class="b j" style="left:104.3px;top:1974.3px;width:697.2px">ingly, trout exposed to the 3B9R light environment were found to be</div>
<div class="b j" style="left:104.3px;top:2003.2px;width:697.2px">characterized by simultaneous enhancement of both growth and im-</div>
<div class="b j" style="left:104.3px;top:2032.2px;width:697.2px">mune performance, thereby tending to indicate that these conditions,</div>
<div class="b j" style="left:852.5px;top:1183.7px;width:696.5px">which simulate the blue-red-blue daily rhythm of light color variation in</div>
<div class="b j" style="left:852.5px;top:1212.5px;width:696.5px">natural underwater environments, are more conducive to the healthy</div>
<div class="b j" style="left:852.5px;top:1241.4px;width:696.5px">growth and development of these fish. Conversely, however, if the</div>
<div class="b j" style="left:852.5px;top:1270.2px;width:696.5px">proportion of blue light in the blue-red combination exceed a threshold</div>
<div class="b j" style="left:852.5px;top:1299.1px;width:696.5px">of 6 h, this has a significant inhibitory effect on the immune and growth</div>
<div class="b" style="left:852.5px;top:1328.0px;width:696.5px;letter-spacing:0.3px">performance.</div>
<div class="b" style="left:852.5px;top:1398.5px;width:696.5px"><i>4.1.&nbsp; <span style="letter-spacing:-0.55px">Plasma immunobiochemistry</span></i></div>
<div class="b j" style="left:885.5px;top:1456.9px;width:663.5px">As in all vertebrates, blood functions as a mediator of metabolism,</div>
<div class="b j" style="left:852.5px;top:1485.9px;width:696.5px">immune regulation, and nutrient transport in fish, and as such, is widely</div>
<div class="b j" style="left:852.5px;top:1514.9px;width:696.5px">used to evaluate physiological health and environmental adaptability</div>
<div class="b j" style="left:852.5px;top:1544.0px;width:696.5px">(<span class="lk">Chen et al., 2021</span>). Indeed, it has been demonstrated that the immu-</div>
<div class="b j" style="left:852.5px;top:1573.0px;width:696.5px">nobiochemical characteristics of fish blood can show marked variations</div>
<div class="b" style="left:852.5px;top:1602.0px;width:696.5px;word-spacing:2.2px">in response to environmental change (<span class="lk">Wang et al., 2021</span>).</div>
<div class="b j" style="left:885.5px;top:1631.0px;width:663.5px">IgM is the most abundant and widely distributed immunoglobulin in</div>
<div class="b j" style="left:852.5px;top:1660.0px;width:696.5px">teleost fishes, in which it plays a vital role in specific humoral immune</div>
<div class="b j" style="left:852.5px;top:1689.1px;width:696.5px">responses (<span class="lk">Salinas et al., 2021</span>). Consequently, plasma IgM levels can</div>
<div class="b j" style="left:852.5px;top:1718.1px;width:696.5px">serve as a useful index for assessing the immune capacity of fish (<span class="lk">Tian</span></div>
<div class="b j" style="left:852.5px;top:1747.1px;width:696.5px"><span class="lk">et al., 2015</span>). In the current study, we found that levels of IgM in the</div>
<div class="b j" style="left:852.5px;top:1776.1px;width:696.5px">blood of group 12B and 3B9R steelhead trout were significantly higher</div>
<div class="b j" style="left:852.5px;top:1805.1px;width:696.5px">than those in the blood of trout in other groups (<span class="lk">Table 2</span>). We speculate</div>
<div class="b j" style="left:852.5px;top:1834.2px;width:696.5px">that this difference could be associated with a promotion of IgM syn-</div>
<div class="b j" style="left:852.5px;top:1863.2px;width:696.5px">thesis in response to blue light stimulation, whereas a red light envi-</div>
<div class="b j" style="left:852.5px;top:1892.2px;width:696.5px;letter-spacing:-0.12px">ronment may have the effect of inhibiting IgM synthesis. Similarly, <span class="lk">Choi</span></div>
<div class="b j" style="left:852.5px;top:1921.2px;width:696.5px"><span class="lk">et al. (2016)</span> have demonstrated that exposure to green light can stim-</div>
<div class="b j" style="left:852.5px;top:1950.2px;width:696.5px;letter-spacing:-0.12px">ulate IgM synthesis in rock bream (<i>Oplegnathus fasciatus</i>), whereas syn-</div>
<div class="b j" style="left:852.5px;top:1979.3px;width:696.5px">thesis is inhibited by a red light environment. Moreover, the effects of</div>
<div class="b j" style="left:852.5px;top:2008.3px;width:696.5px">different light colors on IgM synthesis in fish have been shown to vary</div>
<div class="b" style="left:852.5px;top:2037.3px;width:696.5px;letter-spacing:0.1px">according to species.</div>
</body></html>
